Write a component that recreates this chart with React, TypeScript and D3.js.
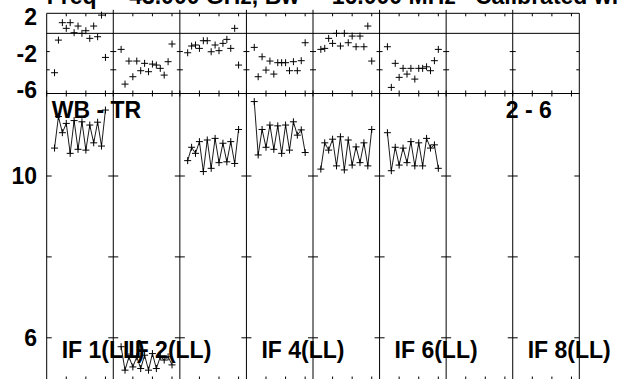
// Externals
import * as d3 from 'd3'
import React, { useRef, useEffect } from 'react'

// Channel numbers plotted in every IF panel
const channels = [2, 3, 4, 5, 6, 7, 8, 9, 10, 11, 12, 13, 14, 15]

// Phase (top panel) per IF, IF 7 and IF 8 have no data
const phaseIF1 = [-4.32, -0.74, 1.17, 0.55, 1.17, 0.07, 0.8, 0.0, 0.29, -0.55, 0.8, -0.37, 2.0, -2.64]
const phaseIF2 = [-1.76, -5.57, -3.04, -4.76, -3.04, -4.1, -3.29, -4.21, -3.37, -3.48, -3.84, -4.58, -3.11, -1.17]
const phaseIF3 = [-2.13, -1.39, -1.28, -1.65, -0.81, -0.81, -2.02, -1.28, -1.9, -1.1, -0.66, -1.65, 0.55, -3.48]
const phaseIF4 = [-1.54, -4.76, -2.57, -4.03, -3.04, -4.47, -3.22, -3.22, -3.22, -4.1, -3.11, -4.1, -3.0, -1.03]
const phaseIF5 = [-1.76, -1.65, -0.55, -1.1, 0.0, -1.39, 0.0, -1.03, -0.3, -1.47, -0.3, -1.47, 0.8, -3.04]
const phaseIF6 = [-1.47, -5.93, -3.29, -4.83, -3.84, -4.47, -3.84, -5.02, -3.84, -3.84, -3.67, -4.1, -3.0, -1.76]

// Amplitude (bottom panel) per IF
const ampIF1 = [10.69, 11.47, 11.07, 11.3, 10.56, 11.37, 10.66, 11.34, 10.64, 11.26, 10.82, 11.33, 10.74, 11.63]
const ampIF2 = [5.78, 5.2, 5.53, 5.28, 5.53, 5.24, 5.57, 5.2, 5.61, 5.24, 5.53, 5.45, 5.53, 5.33]
const ampIF3 = [10.38, 10.71, 10.56, 10.85, 10.11, 10.89, 10.19, 10.93, 10.33, 10.81, 10.35, 10.85, 10.31, 11.15]
const ampIF4 = [11.84, 10.52, 11.15, 10.71, 11.26, 10.66, 11.24, 10.56, 11.26, 10.64, 11.34, 11.01, 11.14, 10.58]
const ampIF5 = [10.17, 10.82, 10.64, 10.91, 10.25, 10.97, 10.15, 10.89, 10.27, 10.72, 10.33, 10.82, 10.25, 11.15]
const ampIF6 = [11.07, 10.13, 10.71, 10.27, 10.69, 10.33, 10.85, 10.25, 10.82, 10.25, 10.93, 10.69, 10.77, 10.19]

const phaseSeries = [phaseIF1, phaseIF2, phaseIF3, phaseIF4, phaseIF5, phaseIF6, [], []]
const ampSeries = [ampIF1, ampIF2, ampIF3, ampIF4, ampIF5, ampIF6, [], []]

// Tick labels
const phaseLabels = [2, -2, -6]
const phaseTicks = [-2, -4]
const ampLabels = [10, 6]
const ampTicks = [10, 8, 6]
const channelTicks = [5, 10, 15]
const ifPanels = [0, 1, 3, 5, 7]
const ifNames = ['IF 1(LL)', 'IF 2(LL)', 'IF 4(LL)', 'IF 6(LL)', 'IF 8(LL)']

const title = 'Freq =  43.000 GHz, Bw =  16.000 MHz   Calibrated with CL 1'
const sourceLabel = 'WB - TR'
const baselineLabel = '2 - 6'

const App = () => {
  const d3Container = useRef<SVGSVGElement | null>(null)

  useEffect(() => {
    document.body.style.margin = '0'
    const svg = d3.select(d3Container.current)
    svg.selectAll('*').remove()

    const left = 46.7
    const right = 579.3
    const top = 13.3
    const mid = 93.5
    const bottom = 379.5
    const font = 'Liberation Sans, Arial, Helvetica, sans-serif'

    const panelScale = d3.scaleLinear().domain([0, 8]).range([left, right])
    const panelW = panelScale(1) - panelScale(0)
    const chanScale = d3.scaleLinear().domain([0, 17]).range([0, panelW])
    const yTop = d3.scaleLinear().domain([-6.6, 2.2]).range([mid, top])
    const yBot = d3.scaleLinear().domain([6, 10]).range([337.8, 176])

    const g = svg.append('g')
      .attr('stroke', '#000')
      .attr('fill', 'none')

    // Frame
    g.append('line').attr('x1', left).attr('x2', right).attr('y1', top).attr('y2', top)
    g.append('line').attr('x1', left).attr('x2', right).attr('y1', mid).attr('y2', mid)
    g.append('line').attr('x1', left).attr('x2', left).attr('y1', top).attr('y2', bottom)
    g.append('line').attr('x1', right).attr('x2', right).attr('y1', top).attr('y2', bottom)
    // Zero phase line
    g.append('line').attr('x1', left).attr('x2', right).attr('y1', yTop(0)).attr('y2', yTop(0))

    // Panel separators
    d3.range(1, 8).forEach(i => {
      const x = panelScale(i)
      g.append('line').attr('x1', x).attr('x2', x).attr('y1', top - 3.5).attr('y2', bottom)
    })

    // Horizontal ticks on each panel edge
    d3.range(0, 9).forEach(i => {
      const x = panelScale(i)
      const inL = i === 0 ? 0 : 3
      const inR = i === 8 ? 0 : 3
      phaseTicks.forEach(v => {
        g.append('line').attr('x1', x - inL).attr('x2', x + inR).attr('y1', yTop(v)).attr('y2', yTop(v))
      })
      ampTicks.forEach(v => {
        g.append('line').attr('x1', x - (inL ? 5 : 0)).attr('x2', x + (inR ? 5 : 0)).attr('y1', yBot(v)).attr('y2', yBot(v))
      })
    })

    // Channel ticks along the borders
    d3.range(8).forEach(i => {
      channelTicks.forEach(c => {
        const x = panelScale(i) + chanScale(c)
        g.append('line').attr('x1', x).attr('x2', x).attr('y1', top).attr('y2', top + 3)
        g.append('line').attr('x1', x).attr('x2', x).attr('y1', mid - 3).attr('y2', mid + 3)
        g.append('line').attr('x1', x).attr('x2', x).attr('y1', bottom - 3).attr('y2', bottom)
      })
      const xb = panelScale(i)
      g.append('line').attr('x1', xb).attr('x2', xb).attr('y1', mid - 3).attr('y2', mid + 3)
    })

    // Plus marker path
    const plus = (x, y) => `M${x - 3.5},${y}H${x + 3.5}M${x},${y - 3.5}V${y + 3.5}`

    // Phase points
    phaseSeries.forEach((vals, i) => {
      const x0 = panelScale(i)
      g.append('path')
        .attr('stroke-width', 1)
        .attr('d', vals.map((v, j) => plus(x0 + chanScale(channels[j]), yTop(v))).join(''))
    })

    // Amplitude lines and points
    ampSeries.forEach((vals, i) => {
      const x0 = panelScale(i)
      if (!vals.length) return
      const line: any = d3.line<number>()
        .x((d, j) => x0 + chanScale(channels[j]))
        .y(d => yBot(d))
      g.append('path').attr('stroke-width', 0.9).attr('d', line(vals))
      g.append('path')
        .attr('stroke-width', 1)
        .attr('d', vals.map((v, j) => plus(x0 + chanScale(channels[j]), yBot(v))).join(''))
    })

    const txt = svg.append('g')
      .style('font-family', font)
      .style('font-weight', 'bold')
      .style('font-size', '23px')
      .attr('fill', '#000')

    // Y labels
    phaseLabels.forEach(v => {
      txt.append('text').attr('x', 37).attr('y', yTop(v) + 2)
        .attr('text-anchor', 'end').attr('dominant-baseline', 'central').text(v)
    })
    ampLabels.forEach(v => {
      txt.append('text').attr('x', 37).attr('y', yBot(v))
        .attr('text-anchor', 'end').attr('dominant-baseline', 'central').text(v)
    })

    // Title, mostly clipped above the page
    txt.append('text').attr('x', left).attr('y', 4)
      .style('white-space', 'pre').text(title)

    txt.append('text').attr('x', left + 5).attr('y', 118.3).text(sourceLabel)
    txt.append('text').attr('x', right - 27.5).attr('y', 118.3)
      .attr('text-anchor', 'end').text(baselineLabel)

    ifPanels.forEach((p, k) => {
      txt.append('text').attr('x', panelScale(p) + 15).attr('y', 358.3).text(ifNames[k])
    })
  }, [])

  return (
    <svg ref={ d3Container } width={ 619 } height={ 379 } style={{ display: 'block', background: '#fff' }} />
  )
}

export default App
